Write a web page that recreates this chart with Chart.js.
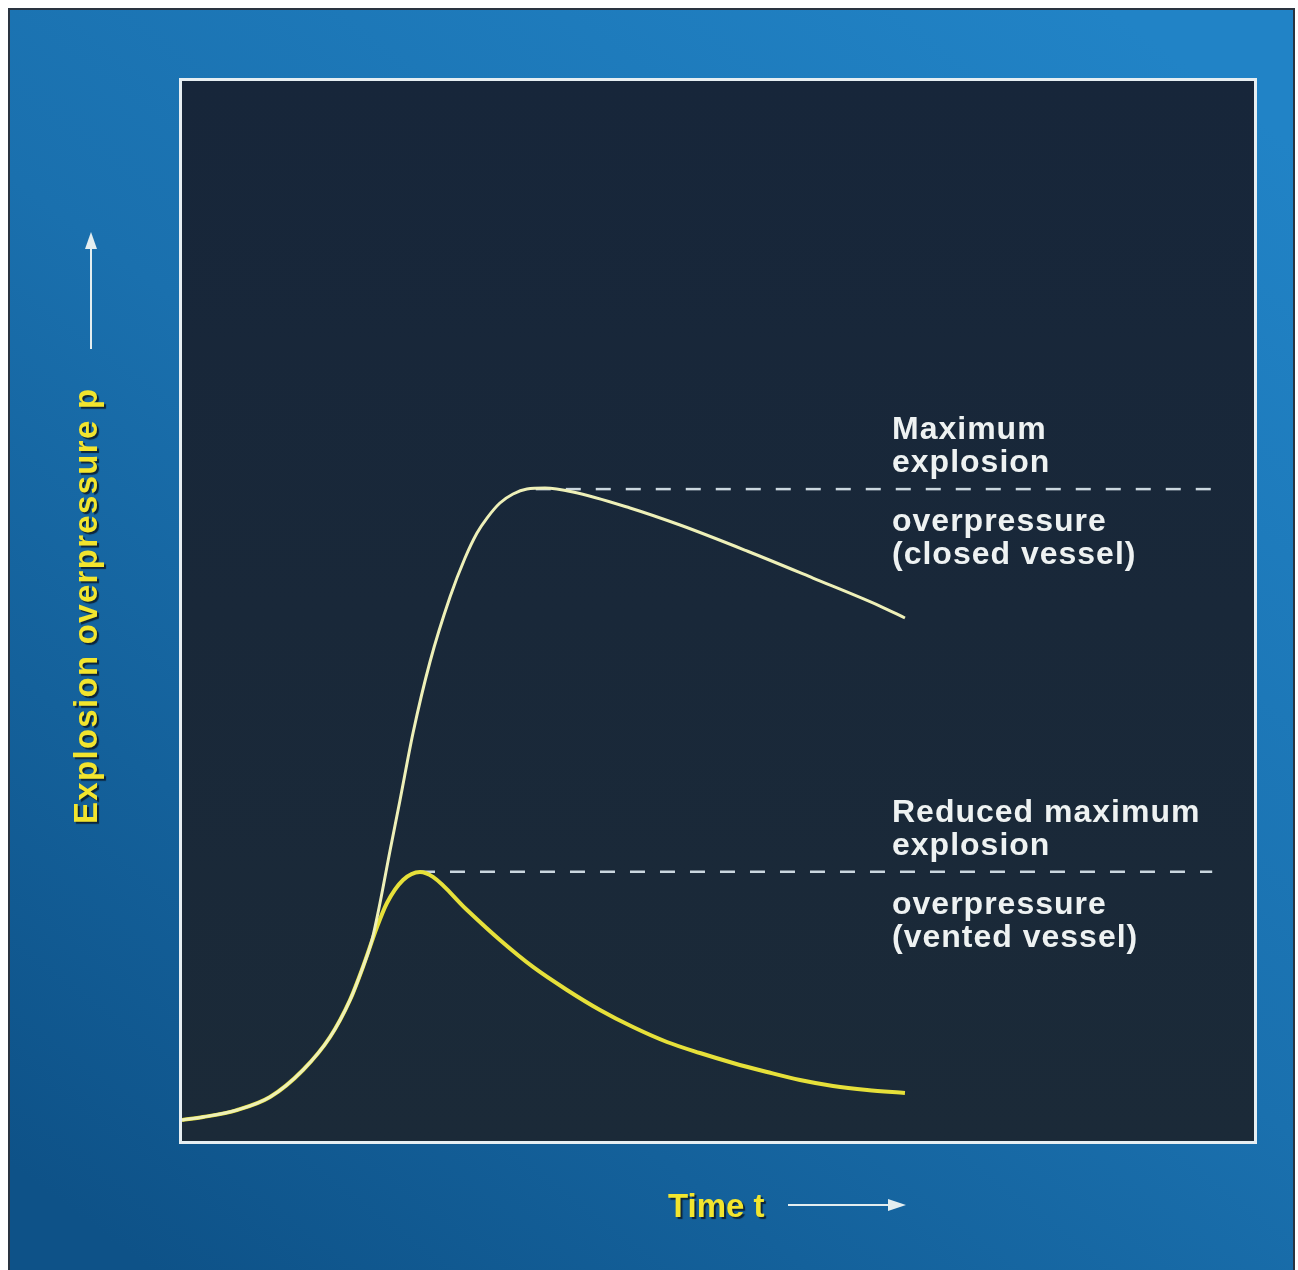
<!DOCTYPE html>
<html>
<head>
<meta charset="utf-8">
<script src="https://cdn.jsdelivr.net/npm/chart.js@4.4.0/dist/chart.umd.min.js"></script>
<style>
  html, body { margin: 0; padding: 0; background: #ffffff; }
  #wrap { width: 1298px; height: 1270px; }
</style>
</head>
<body>
<div id="wrap"><canvas id="c" width="1298" height="1270"></canvas></div>
<script>
// ---- Data (time t and overpressure p in arbitrary units, 0–100) ----
const closedTime = [0, 1.96, 5.13, 8.21, 11.29, 13.81, 15.67, 16.88, 17.72, 18.47, 19.40, 20.34, 21.55, 23.13, 25.00, 26.40, 27.52, 28.45, 29.66, 30.88, 32.18, 33.86, 36.47, 41.79, 46.46, 52.71, 58.86, 65.11, 67.44];
const closedPressure = [1.98, 2.26, 2.92, 4.15, 6.70, 9.81, 13.30, 16.42, 18.96, 22.45, 27.36, 32.17, 38.49, 45.19, 51.32, 55.0, 57.36, 58.77, 60.19, 61.04, 61.51, 61.60, 61.23, 59.72, 58.11, 55.66, 53.11, 50.47, 49.34];
const ventedTime = [0, 1.96, 5.13, 8.21, 11.29, 13.81, 15.67, 16.88, 18.19, 19.12, 20.62, 22.20, 23.41, 26.59, 29.66, 32.74, 35.91, 38.99, 42.07, 45.24, 48.32, 51.40, 54.57, 57.65, 60.73, 63.90, 67.44];
const ventedPressure = [1.98, 2.26, 2.92, 4.15, 6.70, 9.81, 13.30, 16.42, 20.19, 22.45, 24.62, 25.38, 24.91, 21.79, 18.96, 16.42, 14.25, 12.36, 10.75, 9.34, 8.30, 7.36, 6.51, 5.75, 5.19, 4.81, 4.53];
const closedMaxLineTime = [33.0, 96.1];
const closedMaxLineValue = [61.5, 61.5];
const ventedMaxLineTime = [22.2, 96.1];
const ventedMaxLineValue = [25.4, 25.4];
const closedLabel = ['Maximum', 'explosion', 'overpressure', '(closed vessel)'];
const ventedLabel = ['Reduced maximum', 'explosion', 'overpressure', '(vented vessel)'];
const xTitle = 'Time t';
const yTitle = 'Explosion overpressure p';

function pts(xs, ys) { return xs.map((x, i) => ({ x: x, y: ys[i] })); }

const bgPlugin = {
  id: 'bg',
  beforeDraw(chart) {
    const ctx = chart.ctx;
    const W = chart.width, H = chart.height;
    const a = chart.chartArea;
    ctx.save();
    ctx.fillStyle = '#ffffff';
    ctx.fillRect(0, 0, W, H);
    // dark frame
    ctx.fillStyle = '#2a3440';
    ctx.fillRect(8, 8, 1295 - 8, H - 8);
    // blue background gradient
    const g = ctx.createLinearGradient(1100, 0, 150, 1270);
    g.addColorStop(0, '#2183c6');
    g.addColorStop(0.5, '#1a70ae');
    g.addColorStop(1, '#0e5288');
    ctx.fillStyle = g;
    ctx.fillRect(10, 10, 1293 - 10, H - 10);
    // plot panel with white border
    ctx.fillStyle = '#e6eef2';
    ctx.fillRect(a.left - 3, a.top - 3, (a.right - a.left) + 6, (a.bottom - a.top) + 6);
    const g2 = ctx.createLinearGradient(0, a.top, 0, a.bottom);
    g2.addColorStop(0, '#17263a');
    g2.addColorStop(1, '#1b2a38');
    ctx.fillStyle = g2;
    ctx.fillRect(a.left, a.top, a.right - a.left, a.bottom - a.top);
    ctx.restore();
  },
  afterDraw(chart) {
    const ctx = chart.ctx;
    const ys = chart.scales.y;
    ctx.save();
    // annotation texts (anchored to the dashed levels)
    ctx.fillStyle = '#eef2f2';
    ctx.font = 'bold 32px "Liberation Sans", Arial, sans-serif';
    try { ctx.letterSpacing = '1px'; } catch (e) {}
    ctx.textAlign = 'left';
    ctx.textBaseline = 'alphabetic';
    const tx = 892;
    const off = [-50, -17, 42, 75];
    const y1 = ys.getPixelForValue(closedMaxLineValue[0]);
    closedLabel.forEach((s, i) => ctx.fillText(s, tx, y1 + off[i]));
    const y2 = ys.getPixelForValue(ventedMaxLineValue[0]);
    ventedLabel.forEach((s, i) => ctx.fillText(s, tx, y2 + off[i]));

    // axis titles with shadow
    ctx.font = 'bold 33px "Liberation Sans", Arial, sans-serif';
    try { ctx.letterSpacing = '0px'; } catch (e) {}
    ctx.shadowColor = 'rgba(10,25,40,0.85)';
    ctx.shadowOffsetX = 2; ctx.shadowOffsetY = 2; ctx.shadowBlur = 1;
    ctx.fillStyle = '#f2e52e';
    ctx.fillText(xTitle, 668, 1217);

    ctx.save();
    ctx.translate(97, 824);
    ctx.rotate(-Math.PI / 2);
    ctx.font = 'bold 33px "Liberation Sans", Arial, sans-serif';
    try { ctx.letterSpacing = '1.3px'; } catch (e) {}
    ctx.shadowOffsetX = 2; ctx.shadowOffsetY = 2;
    ctx.fillText(yTitle, 0, 0);
    ctx.restore();

    // arrows
    ctx.shadowColor = 'transparent';
    ctx.strokeStyle = '#e4eef0';
    ctx.fillStyle = '#e4eef0';
    ctx.lineWidth = 2;
    ctx.beginPath(); ctx.moveTo(788, 1205); ctx.lineTo(892, 1205); ctx.stroke();
    ctx.beginPath(); ctx.moveTo(906, 1205); ctx.lineTo(888, 1199); ctx.lineTo(888, 1211); ctx.closePath(); ctx.fill();
    ctx.beginPath(); ctx.moveTo(91, 349); ctx.lineTo(91, 246); ctx.stroke();
    ctx.beginPath(); ctx.moveTo(91, 232); ctx.lineTo(85, 249); ctx.lineTo(97, 249); ctx.closePath(); ctx.fill();
    ctx.restore();
  }
};

new Chart(document.getElementById('c'), {
  type: 'scatter',
  data: {
    datasets: [
      {
        label: 'Closed vessel max level',
        data: pts(closedMaxLineTime, closedMaxLineValue),
        showLine: true, borderColor: '#cbd7df', borderWidth: 2.5,
        borderDash: [15, 15], pointRadius: 0, order: 3
      },
      {
        label: 'Vented vessel max level',
        data: pts(ventedMaxLineTime, ventedMaxLineValue),
        showLine: true, borderColor: '#cbd7df', borderWidth: 2.5,
        borderDash: [15, 15], pointRadius: 0, order: 3
      },
      {
        label: 'Vented vessel',
        data: pts(ventedTime, ventedPressure),
        showLine: true, borderColor: '#e6e03a', borderWidth: 4,
        cubicInterpolationMode: 'monotone', pointRadius: 0, order: 2
      },
      {
        label: 'Closed vessel',
        data: pts(closedTime, closedPressure),
        showLine: true, borderColor: '#eef0b8', borderWidth: 3,
        cubicInterpolationMode: 'monotone', pointRadius: 0, order: 1
      }
    ]
  },
  options: {
    responsive: false,
    animation: false,
    layout: { padding: { left: 182, top: 81, right: 44, bottom: 129 } },
    plugins: { legend: { display: false }, tooltip: { enabled: false } },
    scales: {
      x: { type: 'linear', min: 0, max: 100, display: false },
      y: { type: 'linear', min: 0, max: 100, display: false }
    }
  },
  plugins: [bgPlugin]
});
</script>
</body>
</html>
